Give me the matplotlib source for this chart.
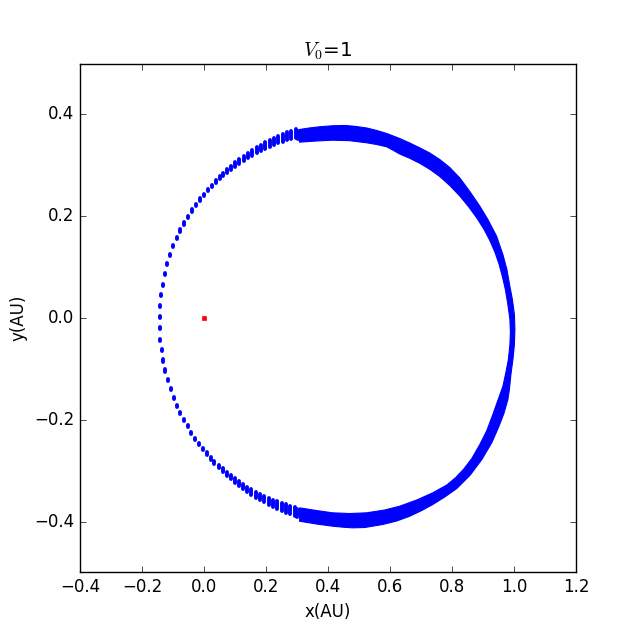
import matplotlib as mpl
mpl.use('Agg')
import matplotlib.pyplot as plt
import numpy as np

# orbit points (AU)
# sparse side, from perihelion upward
dots_top_x = [-0.1435, -0.1435, -0.1403, -0.1338, -0.1273, -0.1186, -0.1099, -0.0992,
              -0.0886, -0.0766, -0.0646, -0.0517, -0.0401, -0.0271, -0.0142, -0.0013,
              0.0129, 0.0259, 0.0388, 0.0504, 0.0624, 0.0753, 0.0882, 0.1012, 0.1141,
              0.1280, 0.1422, 0.1561, 0.1700, 0.1842, 0.1981, 0.2120, 0.2262, 0.2401,
              0.2540, 0.2683, 0.2822, 0.2960, 0.3030]
dots_top_y = [0.0016, 0.0232, 0.0448, 0.0658, 0.0861, 0.1057, 0.1242, 0.1411,
              0.1563, 0.1720, 0.1857, 0.1989, 0.2113, 0.2217, 0.2329, 0.2422,
              0.2512, 0.2591, 0.2677, 0.2756, 0.2821, 0.2885, 0.2952, 0.3017, 0.3076,
              0.3135, 0.3194, 0.3247, 0.3298, 0.3345, 0.3391, 0.3430, 0.3469, 0.3509,
              0.3542, 0.3573, 0.3601, 0.3622, 0.3600]
# sparse side, from perihelion downward
dots_bot_x = [-0.1435, -0.1435, -0.1370, -0.1338, -0.1261, -0.1176, -0.1080, -0.0983,
              -0.0873, -0.0766, -0.0646, -0.0530, -0.0410, -0.0291, -0.0175, -0.0045,
              0.0084, 0.0213, 0.0333, 0.0472, 0.0601, 0.0730, 0.0860, 0.0989, 0.1118,
              0.1248, 0.1390, 0.1529, 0.1668, 0.1810, 0.1949, 0.2088, 0.2230, 0.2369,
              0.2508, 0.2650, 0.2789, 0.2928, 0.3005]
dots_bot_y = [-0.0193, -0.0423, -0.0633, -0.0835, -0.1032, -0.1223, -0.1400, -0.1569,
              -0.1726, -0.1867, -0.2001, -0.2127, -0.2257, -0.2369, -0.2473, -0.2571,
              -0.2663, -0.2756, -0.2840, -0.2919, -0.2992, -0.3062, -0.3129, -0.3194, -0.3253,
              -0.3312, -0.3365, -0.3416, -0.3469, -0.3514, -0.3561, -0.3601, -0.3640, -0.3680,
              -0.3711, -0.3745, -0.3774, -0.3801, -0.3830]
# half spread of each blob of overlapping points (the orbit drifts from turn to turn)
dots_spread = [0.002, 0.002, 0.002, 0.002, 0.002, 0.002, 0.002, 0.002,
               0.002, 0.002, 0.002, 0.002, 0.002, 0.002, 0.002, 0.0020,
               0.0023, 0.0026, 0.0029, 0.0032, 0.0035, 0.0038, 0.0041, 0.0044, 0.0047,
               0.0050, 0.0053, 0.0056, 0.0059, 0.0062, 0.0065, 0.0068, 0.0071, 0.0074,
               0.0077, 0.0080, 0.0083, 0.0086, 0.0085]

# dense side: outer edge of the band of overlapping points (clockwise)
band_out_x = [0.3080, 0.3403, 0.3727, 0.4147, 0.4535, 0.4858, 0.5246, 0.5569,
              0.5892, 0.6312, 0.6636, 0.6959, 0.7282, 0.7605, 0.7928, 0.8252, 0.8575,
              0.8898, 0.9157, 0.9438, 0.9641, 0.9771, 0.9868, 0.9948, 1.0013, 1.0029,
              1.0013, 0.9965, 0.9900, 0.9851, 0.9803, 0.9674, 0.9512, 0.9286, 0.8963,
              0.8575, 0.8155, 0.7767, 0.7379, 0.7023, 0.6636, 0.6215, 0.5763, 0.5181,
              0.4793, 0.4535, 0.4147, 0.3630, 0.3080]
band_out_y = [0.3705, 0.3735, 0.3758, 0.3778, 0.3784, 0.3768, 0.3735, 0.3686,
              0.3627, 0.3528, 0.3440, 0.3345, 0.3243, 0.3115, 0.2958, 0.2752, 0.2486,
              0.2198, 0.1936, 0.1608, 0.1248, 0.0953, 0.0619, 0.0364, 0.0069, -0.0226,
              -0.0521, -0.0816, -0.1111, -0.1405, -0.1602, -0.1877, -0.2133, -0.2447, -0.2781,
              -0.3096, -0.3351, -0.3518, -0.3666, -0.3784, -0.3896, -0.3990, -0.4059, -0.4118,
              -0.4124, -0.4114, -0.4092, -0.4049, -0.3994]
# inner edge of the band (counter-clockwise)
band_in_x = [0.3080, 0.3630, 0.4147, 0.4696, 0.5246, 0.5827, 0.6312, 0.6862,
             0.7379, 0.7831, 0.8122, 0.8381, 0.8639, 0.8898, 0.9124, 0.9318, 0.9489,
             0.9641, 0.9738, 0.9819, 0.9868, 0.9884, 0.9868, 0.9803, 0.9722, 0.9625,
             0.9512, 0.9383, 0.9221, 0.9027, 0.8801, 0.8542, 0.8252, 0.7928, 0.7605,
             0.7282, 0.6959, 0.6636, 0.6312, 0.6086, 0.5892, 0.5569, 0.5246, 0.4696,
             0.4147, 0.3630, 0.3080]
band_in_y = [-0.3731, -0.3784, -0.3829, -0.3843, -0.3829, -0.3774, -0.3699, -0.3577,
             -0.3436, -0.3283, -0.3135, -0.2968, -0.2762, -0.2486, -0.2211, -0.1897, -0.1602,
             -0.1346, -0.1071, -0.0816, -0.0521, -0.0285, -0.0029, 0.0265, 0.0560, 0.0816,
             0.1071, 0.1297, 0.1523, 0.1749, 0.1966, 0.2182, 0.2398, 0.2604, 0.2781,
             0.2923, 0.3041, 0.3139, 0.3224, 0.3302, 0.3365, 0.3410, 0.3444, 0.3485,
             0.3495, 0.3479, 0.3456]

sun_x = [0.0]
sun_y = [0.0]

plt.style.use('classic')
fig = plt.figure(figsize=(6.4, 6.36), dpi=100)
ax = fig.add_subplot(111)

ax.fill(band_out_x + band_in_x, band_out_y + band_in_y, color='b', lw=0.8, ec='b')

# each blob drawn from its innermost to its outermost turn
s = np.array(dots_spread)
for xs, ys in [(dots_top_x, dots_top_y), (dots_bot_x, dots_bot_y)]:
    xs = np.array(xs)
    ys = np.array(ys)
    ax.plot(np.vstack([xs, xs]), np.vstack([ys - s, ys + s]), color='b',
            lw=2.8, solid_capstyle='round')

ax.plot(sun_x, sun_y, 's', color='r', mec='r', ms=2.5)

ax.set_xlim(-0.4, 1.2)
ax.set_ylim(-0.5, 0.5)
ax.set_xlabel('x(AU)')
ax.set_ylabel('y(AU)')
ax.set_title('$V_0$=1')

fig.savefig('out.png', dpi=100)
